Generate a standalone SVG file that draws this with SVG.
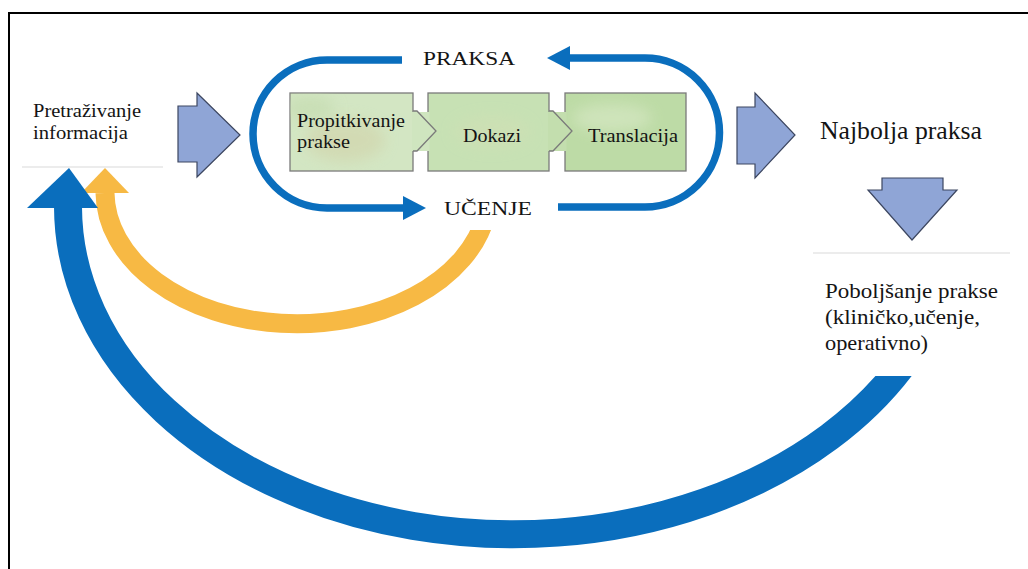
<svg xmlns="http://www.w3.org/2000/svg" width="1028" height="569" viewBox="0 0 1028 569">
<defs>
<style>
.t{font-family:"Liberation Serif","DejaVu Serif","Times New Roman",serif;fill:#141414}
.box{stroke:#7a7a7a;stroke-width:1.3}
.blk{fill:#8fa5d6;stroke:#3c4660;stroke-width:1.2;stroke-linejoin:miter}
.loop{fill:none;stroke:#0a6ebd;stroke-width:7.5}
.sep{stroke:#d9d9d9;stroke-width:1.2}
.blob{filter:url(#blur)}
</style>
<marker id="head" markerUnits="userSpaceOnUse" markerWidth="23" markerHeight="24" refX="1" refY="12" orient="auto" viewBox="0 0 23 24"><path d="M0,0 L23,12 L0,24 z" fill="#0a6ebd"/></marker>
<clipPath id="clipBig"><polygon points="0,0 700,0 700,376 1028,376 1028,569 0,569"/></clipPath>
<clipPath id="clipY"><polygon points="0,0 360,0 360,230 700,230 700,569 0,569"/></clipPath>
<clipPath id="cb1"><rect x="290" y="93" width="123" height="78"/></clipPath>
<clipPath id="cb2"><rect x="428" y="93" width="121" height="78"/></clipPath>
<clipPath id="cb3"><rect x="565" y="93" width="121" height="78"/></clipPath>
<filter id="blur" x="-50%" y="-50%" width="200%" height="200%"><feGaussianBlur stdDeviation="7"/></filter>
</defs>
<rect width="1028" height="569" fill="#fff"/>
<g id="frame" stroke="#000" stroke-width="2">
<line x1="8" y1="13" x2="1028" y2="13"/>
<line x1="9" y1="12" x2="9" y2="569"/>
</g>

<g id="connectors">
<path d="M68,207 A445,328 0 0 0 913,350" fill="none" stroke="#0a6ebd" stroke-width="28" clip-path="url(#clipBig)"/>
<path d="M105,193 A192,132 0 0 0 486,215" fill="none" stroke="#f7b944" stroke-width="19" clip-path="url(#clipY)"/>
<polygon points="81,193 105,168 129,193" fill="#f7b944"/>
<polygon points="27,208 69,168 98,208" fill="#0a6ebd"/>
<path class="loop" d="M402,60 H327 A74,74 0 0 0 327,208 H404" marker-end="url(#head)"/>
<path class="loop" d="M558,207 H645 A74.5,74.5 0 0 0 645,58 H569" marker-end="url(#head)"/>
<polygon class="blk" points="178,106 197,106 197,93 240,135 197,177 197,162 178,162"/>
<polygon class="blk" points="737,107 755,107 755,93 795,135 755,178 755,164 737,164"/>
<polygon class="blk" points="882,178 943,178 943,190 957,190 912,240 868,190 882,190"/>
</g>

<g id="node-pretrazivanje" font-family="Liberation Serif, DejaVu Serif, serif">
<text class="t" x="33" y="117" font-size="19" textLength="108" lengthAdjust="spacingAndGlyphs">Pretraživanje</text>
<text class="t" x="33" y="139" font-size="19" textLength="95" lengthAdjust="spacingAndGlyphs">informacija</text>
<line class="sep" x1="22" y1="167" x2="163" y2="167"/>
</g>

<g id="node-praksa" font-family="Liberation Serif, DejaVu Serif, serif">
<text class="t" x="423" y="65" font-size="19" textLength="92" lengthAdjust="spacingAndGlyphs">PRAKSA</text>
</g>
<g id="node-ucenje" font-family="Liberation Serif, DejaVu Serif, serif">
<text class="t" x="444" y="215" font-size="19.5" textLength="88" lengthAdjust="spacingAndGlyphs">UČENJE</text>
</g>

<g id="node-propitkivanje" font-family="Liberation Serif, DejaVu Serif, serif">
<rect class="box" x="290" y="93" width="123" height="78" fill="#d3e6c3"/>
<g clip-path="url(#cb1)"><ellipse class="blob" cx="345" cy="140" rx="40" ry="22" fill="#d2d8b0" opacity="0.8"/><ellipse class="blob" cx="310" cy="108" rx="25" ry="12" fill="#c5dcb0" opacity="0.7"/></g>
<text class="t" x="297" y="127" font-size="18.5" textLength="108" lengthAdjust="spacingAndGlyphs">Propitkivanje</text>
<text class="t" x="297" y="148" font-size="18.5" textLength="53" lengthAdjust="spacingAndGlyphs">prakse</text>
</g>

<g id="node-dokazi" font-family="Liberation Serif, DejaVu Serif, serif">
<rect class="box" x="428" y="93" width="121" height="78" fill="#c7e1b4"/>
<g clip-path="url(#cb2)"><ellipse class="blob" cx="492" cy="132" rx="38" ry="16" fill="#cfe0b4" opacity="0.7"/></g>
<text class="t" x="463" y="142" font-size="18.5" textLength="58" lengthAdjust="spacingAndGlyphs">Dokazi</text>
</g>

<g id="node-translacija" font-family="Liberation Serif, DejaVu Serif, serif">
<rect class="box" x="565" y="93" width="121" height="78" fill="#bddba6"/>
<g clip-path="url(#cb3)"><ellipse class="blob" cx="612" cy="118" rx="40" ry="14" fill="#d3e6c0" opacity="0.8"/></g>
<text class="t" x="588" y="142" font-size="18.5" textLength="90" lengthAdjust="spacingAndGlyphs">Translacija</text>
</g>

<g id="puzzle-links">
<rect x="412" y="112" width="17.5" height="39" fill="#cfe5bf"/>
<polygon points="413,111 417,111 436,131 417,151 413,151" fill="#cfe5bf"/>
<path d="M413,111 H417 L436,131 L417,151 H413" fill="none" stroke="#7a7a7a" stroke-width="1.3"/>
<rect x="548" y="112" width="18.5" height="39" fill="#c3deae"/>
<polygon points="549,111 553,111 572,131 553,151 549,151" fill="#c3deae"/>
<path d="M549,111 H553 L572,131 L553,151 H549" fill="none" stroke="#7a7a7a" stroke-width="1.3"/>
</g>

<g id="node-najbolja" font-family="Liberation Serif, DejaVu Serif, serif">
<text class="t" x="820" y="139" font-size="25" textLength="162" lengthAdjust="spacingAndGlyphs">Najbolja praksa</text>
</g>

<g id="node-poboljsanje" font-family="Liberation Serif, DejaVu Serif, serif">
<line class="sep" x1="813" y1="253" x2="1010" y2="253"/>
<text class="t" x="825" y="298" font-size="21" textLength="173" lengthAdjust="spacingAndGlyphs">Poboljšanje prakse</text>
<text class="t" x="825" y="324" font-size="21" textLength="155" lengthAdjust="spacingAndGlyphs">(kliničko,učenje,</text>
<text class="t" x="825" y="350" font-size="21" textLength="103" lengthAdjust="spacingAndGlyphs">operativno)</text>
</g>
</svg>
